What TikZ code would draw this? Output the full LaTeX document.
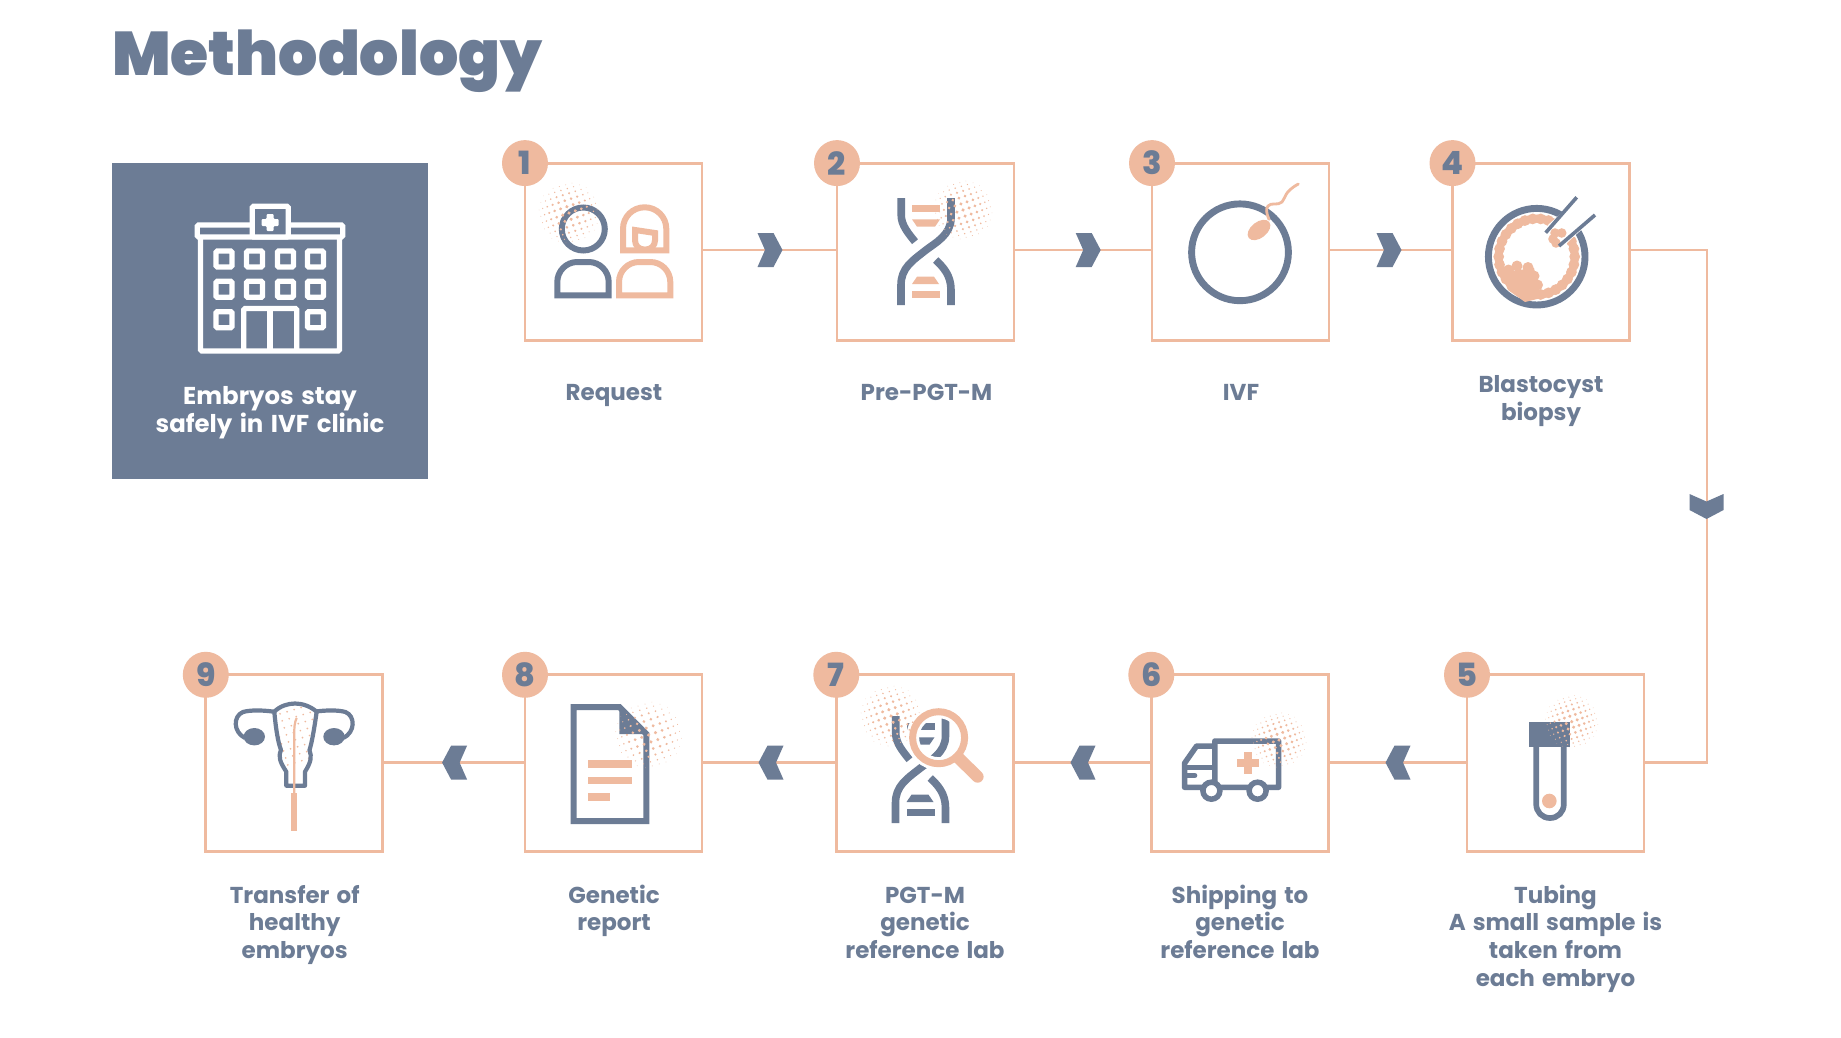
\documentclass[tikz,border=0pt]{standalone}
\usepackage{fontspec}
\newfontfamily\lblfont{Poppins Bold}[WordSpace=1.45]
\newfontfamily\ttlfont{Poppins Black}
\newfontfamily\numfont{Poppins ExtraBold}
\definecolor{slate}{HTML}{6C7C95}
\definecolor{peach}{HTML}{EFBA9F}
\tikzset{
  stepbox/.style={draw=peach,line width=2.9pt,minimum size=177pt,inner sep=0pt,outer sep=0pt},
  numdisc/.style={circle,fill=peach,text=slate,minimum size=46pt,inner sep=0pt,font=\numfont\fontsize{32}{32}\selectfont},
  linkline/.style={draw=peach,line width=2.9pt},
  lbl/.style={text=slate,align=center,anchor=north,inner sep=0pt,font=\lblfont\fontsize{23}{27.6}\selectfont},
  slateline/.style={draw=slate,line width=#1},
  peachline/.style={draw=peach,line width=#1},
  whiteline/.style={draw=white,line width=5.2pt,rounded corners=1.2pt}
}
\newcommand{\chevron}[3]{\fill[slate,shift={(#1,#2)},rotate=#3] (-12.5,-17)--(3.5,-17)--(12.5,0)--(3.5,17)--(-12.5,17)--(-5,0)--cycle;}
\newcommand{\halftone}[3]{%
  \begin{scope}[shift={(#1,#2)},rotate=12]
  \foreach \u in {-6,...,6}{\foreach \v in {-6,...,6}{%
    \pgfmathsetmacro\ax{\u+0.12*\v}%
    \pgfmathsetmacro\ay{\v-0.12*\u}%
    \pgfmathsetmacro\px{#3*(0.083*\ax+0.5*sin(\ax*15))}%
    \pgfmathsetmacro\py{#3*(0.083*\ay+0.5*sin(\ay*15))}%
    \pgfmathsetmacro\dd{(\px*\px+\py*\py)/(#3*#3)}%
    \pgfmathparse{\dd<0.98?1:0}%
    \ifnum\pgfmathresult=1
      \pgfmathsetmacro\rr{1.55*(1-\dd)+0.22}%
      \fill[peach] (\px,\py) circle (\rr pt);
    \fi
  }}
  \end{scope}}
\newcommand{\dnastrands}[2]{%
  \begin{scope}[shift={(#1,#2)}]
  \draw[slateline=7.6pt] (901.2,198) -- (901.2,215) .. controls (901.2,225) and (908,233) .. (915,241.7);
  \draw[slateline=7.6pt] (951,198) -- (951,218) .. controls (951,235) and (935,243) .. (926,250) .. controls (912,261) and (901,268) .. (901,285) -- (901,305);
  \draw[slateline=7.6pt] (935.7,260) .. controls (943,267) and (951,275) .. (951,290) -- (951,305);
  \end{scope}}
\newcommand{\dnarungs}[3]{%
  \begin{scope}[shift={(#1,#2)}]
  \fill[#3] (912,205) rectangle (940,212.3);
  \fill[#3] (912,219.3) -- (940,219.3) -- (935,226.7) -- (917,226.7) -- cycle;
  \fill[#3] (917,276.7) -- (934,276.7) -- (939,284) -- (912,284) -- cycle;
  \fill[#3] (912,291) rectangle (940,298.3);
  \end{scope}}
\begin{document}
\begin{tikzpicture}[x=1pt,y=-1pt]
\useasboundingbox (0,0) rectangle (1841,1038);
\fill[white] (0,0) rectangle (1841,1038);

% title
\node[anchor=base west,inner sep=0pt,text=slate,font=\ttlfont\fontsize{61.7}{61.7}\selectfont] (title) at (112,75.7) {Methodology};

% clinic panel
\fill[slate] (112,163) rectangle (428,479);
\draw[whiteline] (197.3,225) rectangle (342.7,237);
\draw[whiteline,fill=slate] (252.3,206.3) rectangle (288.2,237);
\draw[whiteline] (200.5,237) -- (200.5,351) -- (339.5,351) -- (339.5,237);
\foreach \wy in {259,289.3,319.7}{
  \foreach \wx in {224,254.5,285.4,315.4}{
    \ifdim\wy pt>300pt \ifdim\wx pt>230pt \ifdim\wx pt<300pt \else
      \draw[whiteline] (\wx-8,\wy-8) rectangle (\wx+8,\wy+8);
    \fi \else
      \draw[whiteline] (\wx-8,\wy-8) rectangle (\wx+8,\wy+8);
    \fi \else
      \draw[whiteline] (\wx-8,\wy-8) rectangle (\wx+8,\wy+8);
    \fi
  }}
\draw[whiteline] (243.8,351) -- (243.8,308.5) -- (296.7,308.5) -- (296.7,351);
\draw[whiteline] (270,308.5) -- (270,351);
\fill[white,rounded corners=1pt] (261.5,219) -- (266.5,219) -- (266.5,214) -- (273.5,214) -- (273.5,219) -- (278.5,219) -- (278.5,226) -- (273.5,226) -- (273.5,231) -- (266.5,231) -- (266.5,226) -- (261.5,226) -- cycle;
\node[text=white,align=center,inner sep=0pt,anchor=north,font=\lblfont\fontsize{24.4}{28}\selectfont] (clinic) at (270,384.4) {\strut Embryos stay\\safely in IVF clinic};

% step boxes
\node[stepbox] (b1) at (613.5,251.6) {};
\node[stepbox] (b2) at (925.5,251.6) {};
\node[stepbox] (b3) at (1240.5,251.6) {};
\node[stepbox] (b4) at (1541,251.6) {};
\node[stepbox] (b5) at (1555.5,763.3) {};
\node[stepbox] (b6) at (1239.8,763.3) {};
\node[stepbox] (b7) at (924.8,763.3) {};
\node[stepbox] (b8) at (613.5,763.3) {};
\node[stepbox] (b9) at (294.3,763.3) {};

% connectors
\coordinate (elbow) at (1707,505);
\draw[linkline] ([yshift=1.6pt]b1.east) -- ([yshift=1.6pt]b2.west);
\draw[linkline] ([yshift=1.6pt]b2.east) -- ([yshift=1.6pt]b3.west);
\draw[linkline] ([yshift=1.6pt]b3.east) -- ([yshift=1.6pt]b4.west);
\draw[linkline] ([yshift=1.6pt]b4.east) -| (elbow) |- ([yshift=.6pt]b5.east);
\draw[linkline] ([yshift=.6pt]b5.west) -- ([yshift=.6pt]b6.east);
\draw[linkline] ([yshift=.6pt]b6.west) -- ([yshift=.6pt]b7.east);
\draw[linkline] ([yshift=.6pt]b7.west) -- ([yshift=.6pt]b8.east);
\draw[linkline] ([yshift=.6pt]b8.west) -- ([yshift=.6pt]b9.east);
\chevron{770}{250}{0}
\chevron{1088.2}{250}{0}
\chevron{1389}{250}{0}
\chevron{1706.5}{506.5}{-90}
\chevron{1398}{762.6}{180}
\chevron{1083}{762.6}{180}
\chevron{771}{762.6}{180}
\chevron{454.6}{762.6}{180}

% number discs
\node[numdisc] (n1) at (b1.north west) {1};
\node[numdisc] (n2) at (b2.north west) {2};
\node[numdisc] (n3) at (b3.north west) {3};
\node[numdisc] (n4) at (b4.north west) {4};
\node[numdisc] (n5) at (b5.north west) {5};
\node[numdisc] (n6) at (b6.north west) {6};
\node[numdisc] (n7) at (b7.north west) {7};
\node[numdisc] (n8) at (b8.north west) {8};
\node[numdisc] (n9) at (b9.north west) {9};

% labels
\node[lbl] (l1) at (614,381) {\strut Request};
\node[lbl] (l2) at (926.5,381) {\strut Pre-PGT-M};
\node[lbl] (l3) at (1241,381) {\strut IVF};
\node[lbl] (l4) at (1541,373) {\strut Blastocyst\\biopsy};
\node[lbl] (l5) at (1555.5,883.7) {\strut Tubing\\A small sample is\\taken from\\each embryo};
\node[lbl] (l6) at (1240,883.7) {\strut Shipping to\\genetic\\reference lab};
\node[lbl] (l7) at (925,883.7) {\strut PGT-M\\genetic\\reference lab};
\node[lbl] (l8) at (614,883.7) {\strut Genetic\\report};
\node[lbl] (l9) at (294.7,883.7) {\strut Transfer of\\healthy\\embryos};

% icon 1: couple
\draw[slateline=6pt] (583.3,229) circle (21.5pt);
\draw[slateline=6pt] (557.3,295.3) [rounded corners=20pt] -- (557.3,262) -- (608.7,262) [sharp corners] -- (608.7,295.3) -- cycle;
\draw[peachline=6pt] (619,295.3) [rounded corners=20pt] -- (619,262) -- (670.3,262) [sharp corners] -- (670.3,295.3) -- cycle;
\draw[peachline=6pt] (623,250.3) [rounded corners=21.5pt] -- (623,207.3) -- (666.3,207.3) [sharp corners] -- (666.3,250.3) -- cycle;
\draw[peachline=6pt,line join=miter] (635,230) -- (655,233) [rounded corners=9pt] -- (655,249.5) -- (635,249.5) [sharp corners] -- cycle;
\halftone{569}{213}{31}

% icon 2: DNA
\dnastrands{0}{0}
\dnarungs{0}{0}{peach}
\halftone{963}{210}{30}

% icon 3: egg and sperm
\draw[slateline=6.9pt] (1240,252.3) circle (48.4pt);
\fill[peach,rotate around={38:(1259,230)}] (1259,230) ellipse [x radius=13,y radius=8];
\draw[peachline=2.8pt,line cap=round] (1269,219.3) .. controls (1266,213) and (1266,208) .. (1268,206) .. controls (1271,202) and (1278,206) .. (1282,202) .. controls (1286,197) and (1284,192) .. (1298.3,184);

% icon 4: biopsy
\draw[slateline=6.9pt] (1536.7,256.7) circle (48.3pt);
\draw[peachline=8pt] (1536.7,256.7) circle (38pt);
\foreach \ba in {0,12,...,350}{\fill[peach] (1536.7,256.7) ++(\ba:38pt) circle (5.4pt);}
\fill[white] (1547,250) -- (1548,225) -- (1578,198) -- (1597,216) -- (1570,240) -- (1560,250) -- cycle;
\fill[peach] (1504,272) -- (1534,268) -- (1541,298) -- (1525,302) -- (1508,290) -- cycle;
\foreach \bx/\by in {1508.5/270,1517/266,1528/267.5,1534/276,1537.5/285,1531/292}{\fill[peach] (\bx,\by) circle (5.5pt);}
\foreach \bx/\by in {1553/239,1555/233,1561.7/233,1556/243}{\fill[peach] (\bx,\by) circle (4.8pt);}
\draw[slateline=3.6pt] (1576.7,197.3) -- (1545.7,232.7);
\draw[slateline=3.6pt] (1595,215) -- (1559,246);

% icon 5: tube
\draw[slateline=5.7pt] (1536.2,747) -- (1536.2,804) .. controls (1536.2,812) and (1542,818) .. (1550,818) .. controls (1558,818) and (1563.8,812) .. (1563.8,804) -- (1563.8,747);
\fill[slate] (1529.3,722.3) rectangle (1570,747.3);
\fill[peach] (1549.3,801) circle (7.3pt);
\halftone{1571.7}{721.7}{27}

% icon 6: ambulance
\draw[slateline=5.5pt,line join=round] (1214.8,787.3) -- (1214.8,741) -- (1278.6,741) -- (1278.6,787.3) -- (1184.5,787.3) -- (1184.5,763.3) -- (1196.6,746) -- (1214.8,746);
\draw[slateline=5pt] (1184.5,767.3) -- (1214.8,767.3);
\draw[slateline=5pt,line cap=round] (1186,775.5) -- (1194.8,775.5);
\draw[slateline=5.5pt,fill=white] (1211.4,790.7) circle (8.5pt);
\draw[slateline=5.5pt,fill=white] (1257.6,790.7) circle (8.5pt);
\fill[peach] (1243.6,751.7) rectangle (1251.6,773.7);
\fill[peach] (1236.6,758.7) rectangle (1258.6,766.7);
\halftone{1279}{740}{28}

% icon 7: DNA under lens
\dnastrands{-5.5}{518}
\dnarungs{-5.5}{518}{slate}
\draw[white,line width=13pt] (938.6,737.7) circle (26pt);
\draw[peachline=12pt,line cap=round] (958.6,758) -- (977.6,776.7);
\draw[peachline=7pt] (938.6,737.7) circle (26pt);
\halftone{891}{716}{31}

% icon 8: report
\draw[slateline=6pt,line join=miter] (573.7,707) -- (619.3,707) -- (646.3,734) -- (646.3,821) -- (573.7,821) -- cycle;
\fill[slate] (619.3,704) -- (649.3,734) -- (619.3,734) -- cycle;
\fill[peach] (587.9,760) rectangle (632.1,768.3);
\fill[peach] (587.9,776.7) rectangle (632.1,784);
\fill[peach] (587.9,793) rectangle (610,800.7);
\halftone{648.6}{735}{34}

% icon 9: uterus
\begin{scope}
\clip (274.3,711.7) .. controls (280,706) and (288,703.5) .. (295,703.5) .. controls (302,703.5) and (310,706) .. (316.7,711.7) .. controls (314,730) and (312,742) .. (309.5,750) .. controls (312,757) and (311,762) .. (305,771.7) -- (305,785.7) -- (286.3,785.7) -- (286.3,771.7) .. controls (280,762) and (278,757) .. (281,750) .. controls (278,742) and (276,730) .. (274.3,711.7) -- cycle;
\foreach \dx in {-20,-13,...,22}{\foreach \dy in {-30,-23,...,30}{\fill[peach] (293+\dx+0.3*\dy,735+\dy-0.3*\dx) circle (0.95pt);}}
\end{scope}
\draw[slateline=4.2pt,line join=round] (274.3,711.7) .. controls (280,706) and (288,703.5) .. (295,703.5) .. controls (302,703.5) and (310,706) .. (316.7,711.7) .. controls (314,730) and (312,742) .. (309.5,750) .. controls (312,757) and (311,762) .. (305,771.7) -- (305,785.7) -- (286.3,785.7) -- (286.3,771.7) .. controls (280,762) and (278,757) .. (281,750) .. controls (278,742) and (276,730) .. (274.3,711.7) -- cycle;
\draw[slateline=4.2pt] (274,711.7) .. controls (262,710) and (250,710) .. (243,712) .. controls (233,716) and (233,732) .. (245,738);
\draw[slateline=4.2pt] (314.4,711.7) .. controls (326.4,710) and (338.4,710) .. (345.4,712) .. controls (355.4,716) and (355.4,732) .. (343.4,738);
\fill[slate] (254.3,736.7) ellipse [x radius=10.7,y radius=8.7];
\fill[slate] (334,736.7) ellipse [x radius=10.7,y radius=8.7];
\draw[peachline=2.2pt] (296.7,718) .. controls (294.5,722) and (294.2,728) .. (294.2,735) -- (294.2,795);
\fill[peach] (291,793.3) rectangle (297,831);
\end{tikzpicture}
\end{document}
